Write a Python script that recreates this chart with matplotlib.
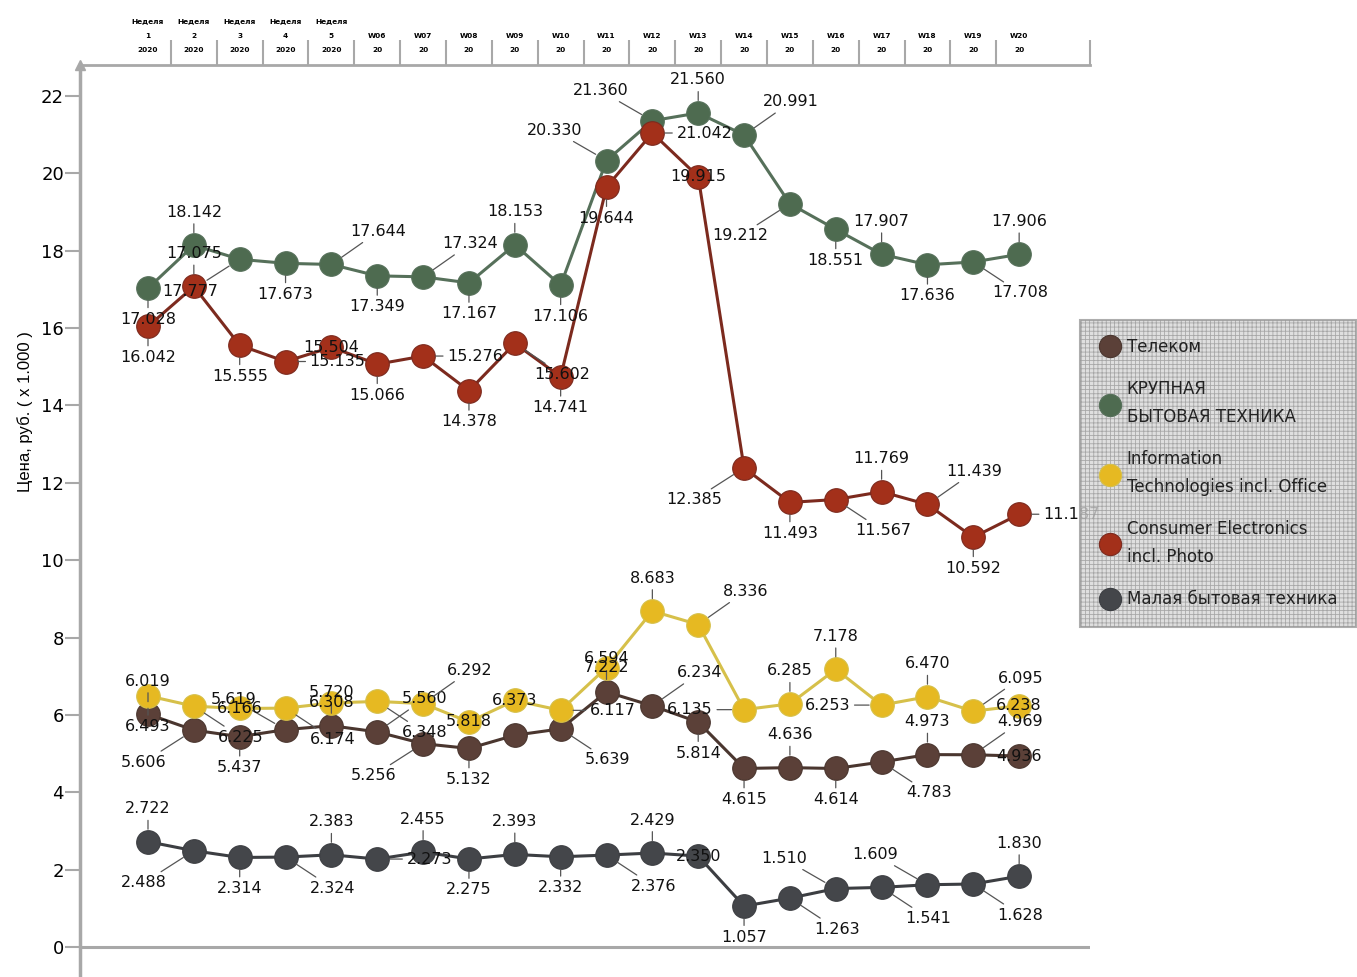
import numpy as np
import matplotlib
matplotlib.use("Agg")
from matplotlib import pyplot as plt
from matplotlib.lines import Line2D

plt.rcParams['font.family'] = ['DejaVu Sans']
plt.rcParams['hatch.linewidth'] = 0.6

# недели
weeks = ["Неделя\n1\n2020", "Неделя\n2\n2020", "Неделя\n3\n2020", "Неделя\n4\n2020", "Неделя\n5\n2020",
         "W06\n20", "W07\n20", "W08\n20", "W09\n20", "W10\n20", "W11\n20", "W12\n20", "W13\n20",
         "W14\n20", "W15\n20", "W16\n20", "W17\n20", "W18\n20", "W19\n20", "W20\n20"]

telecom = [6.019, 5.606, 5.437, 5.619, 5.720, 5.560, 5.256, 5.132, 5.474, 5.639,
           6.594, 6.234, 5.814, 4.615, 4.636, 4.614, 4.783, 4.973, 4.969, 4.936]
big_appl = [17.028, 18.142, 17.777, 17.673, 17.644, 17.349, 17.324, 17.167, 18.153, 17.106,
            20.330, 21.360, 21.560, 20.991, 19.212, 18.551, 17.907, 17.636, 17.708, 17.906]
it_office = [6.493, 6.225, 6.166, 6.174, 6.308, 6.348, 6.292, 5.818, 6.373, 6.117,
             7.222, 8.683, 8.336, 6.135, 6.285, 7.178, 6.253, 6.470, 6.095, 6.238]
ce_photo = [16.042, 17.075, 15.555, 15.135, 15.504, 15.066, 15.276, 14.378, 15.602, 14.741,
            19.644, 21.042, 19.915, 12.385, 11.493, 11.567, 11.769, 11.439, 10.592, 11.187]
small_appl = [2.722, 2.488, 2.314, 2.324, 2.383, 2.273, 2.455, 2.275, 2.393, 2.332,
              2.376, 2.429, 2.350, 1.057, 1.263, 1.510, 1.541, 1.609, 1.628, 1.830]

names = ["Телеком", "КРУПНАЯ\nБЫТОВАЯ ТЕХНИКА", "Information\nTechnologies incl. Office",
         "Consumer Electronics\nincl. Photo", "Малая бытовая техника"]

# где стоят подписи у точек (a-над, b-под, r/l-сбоку, o-на точке, x-нет)
pos_telecom = ['a', 'll', 'b', 'ul', 'a', 'ur', 'll', 'b', 'x', 'lr',
               'a', 'ur', 'b', 'b', 'a', 'b', 'lr', 'a', 'ur', 'o']
pos_big = ['b', 'a', 'll', 'b', 'ur', 'b', 'ur', 'b', 'a', 'b',
           'ul', 'ul', 'a', 'ur', 'll', 'b', 'a', 'b', 'lr', 'a']
pos_it = ['b', 'lr', 'o', 'lr', 'o', 'lr', 'ur', 'o', 'o', 'r',
          'o', 'a', 'ur', 'l', 'a', 'a', 'l', 'a', 'ur', 'o']
pos_ce = ['b', 'a', 'b', 'r', 'o', 'b', 'r', 'b', 'lr', 'b',
          'b', 'r', 'o', 'll', 'b', 'lr', 'a', 'ur', 'b', 'r']
pos_small = ['a', 'll', 'b', 'lr', 'a', 'r', 'a', 'b', 'a', 'b',
             'lr', 'a', 'o', 'b', 'lr', 'ul', 'lr', 'ul', 'lr', 'a']

offs = {'a': (0, 33), 'b': (0, -31), 'ur': (47, 33), 'lr': (47, -31),
        'ul': (-52, 30), 'll': (-50, -32), 'r': (52, 0), 'l': (-54, 0), 'o': (0, 0)}

series = [
    (telecom, pos_telecom, '#5b4038', '#4a362f'),
    (big_appl, pos_big, '#4e6b50', '#56705a'),
    (it_office, pos_it, '#e6b922', '#d6c04a'),
    (ce_photo, pos_ce, '#a3301a', '#7c2a1e'),
    (small_appl, pos_small, '#44464a', '#3c3e42'),
]

fig = plt.figure(figsize=(13.57, 9.77), dpi=100)
ax = fig.add_axes([80 / 1357, 0.0, 1010 / 1357, 1 - 65 / 977])

x = np.arange(len(weeks))
for vals, pos, col, lcol in series:
    ax.plot(x, vals, color=lcol, lw=2.2, zorder=2)
    ax.plot(x, vals, 'o', ms=17, mfc=col, mec=lcol, mew=0.8, zorder=3)
    for xi, v, p in zip(x, vals, pos):
        if p == 'x':
            continue
        dx, dy = offs[p]
        arr = None if p == 'o' else dict(arrowstyle='-', color='#555555', lw=0.9, shrinkA=1, shrinkB=9)
        ax.annotate(f"{v:.3f}", xy=(xi, v), xytext=(dx, dy), textcoords='offset pixels',
                    ha='center', va='center', fontsize=11.5, color='#111111',
                    arrowprops=arr, zorder=4)

ax.set_xlim(-1.483, 20.545)
ax.set_ylim(-0.776, 22.80)
ax.axhline(0, color='#a8a8a8', lw=2.2, zorder=1)

ax.set_yticks(np.arange(0, 23, 2))
ax.tick_params(axis='y', length=11, width=1.5, color='#a8a8a8', labelsize=13, pad=0.5)
ax.set_ylabel("Цена, руб. ( x 1.000 )", fontsize=12, family='Liberation Sans')
ax.yaxis.set_label_coords(-0.0465, 0.62)

# верхняя ось с неделями
ax.xaxis.tick_top()
ax.set_xticks(x)
ax.set_xticklabels(weeks, fontsize=5.3, fontweight='bold')
ax.set_xticks(np.append(x[:-1] + 0.5, 20.545), minor=True)
ax.tick_params(axis='x', which='major', length=0, pad=9)
ax.tick_params(axis='x', which='minor', length=18, width=1.5, color='#a8a8a8')
for lbl in ax.get_xticklabels():
    lbl.set_linespacing(2.6)

for s in ['bottom', 'right']:
    ax.spines[s].set_visible(False)
ax.spines['top'].set_color('#a8a8a8')
ax.spines['top'].set_linewidth(2)
ax.spines['left'].set_color('#a8a8a8')
ax.spines['left'].set_linewidth(2.5)
ax.plot([0], [1], marker='^', ms=7, color='#a8a8a8', transform=ax.transAxes, clip_on=False)

handles = [Line2D([], [], ls='none', marker='o', ms=16, mfc=c, mec=lc, mew=0.8)
           for _, _, c, lc in series]
leg = fig.legend(handles, names, loc='upper left', bbox_to_anchor=(1080 / 1357, 1 - 320 / 977),
                 fontsize=12, frameon=True, fancybox=False, labelspacing=1.45,
                 handletextpad=0.3, borderpad=1.1, handlelength=1.4, borderaxespad=0)
fr = leg.get_frame()
fr.set_facecolor('#d8d8d8')
fr.set_edgecolor('#9a9a9a')
fr.set_hatch('++++')
fr.set_linewidth(1.5)
for t in leg.get_texts():
    t.set_linespacing(1.7)
    t.set_color('#222222')

fig.savefig('out.png', dpi=100)
